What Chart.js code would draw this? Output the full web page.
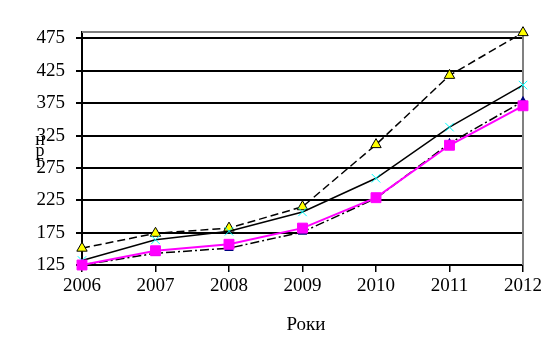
<!DOCTYPE html>
<html><head><meta charset="utf-8">
<script src="https://cdn.jsdelivr.net/npm/chart.js@4/dist/chart.umd.min.js"></script>
<style>html,body{margin:0;padding:0;background:#fff;}#wrap{width:555px;height:357px;}</style>
</head><body><div id="wrap"><canvas id="c" width="555" height="357"></canvas></div>
<script>
const years = ['2006','2007','2008','2009','2010','2011','2012'];
const seriesTriangle = [151, 174, 182, 215, 311, 418, 484];
const seriesCross = [132, 164, 177, 207, 259, 338, 403];
const seriesDashDot = [125, 143, 151, 176, 228, 313, 378];
const seriesMagenta = [125, 147, 157, 182, 229, 310, 371];
const yTicks = [125, 175, 225, 275, 325, 375, 425, 475];
const yTitleLetters = ['н', 'р', 'г'];
const xTitle = 'Роки';

const FONT = '"Liberation Serif", "Times New Roman", serif';

const decor = {
  id: 'decor',
  beforeDatasetsDraw(chart) {
    const {ctx, chartArea: a} = chart;
    ctx.save();
    ctx.strokeStyle = '#808080';
    ctx.lineWidth = 2;
    ctx.beginPath();
    ctx.moveTo(a.left, a.top);
    ctx.lineTo(a.right, a.top);
    ctx.lineTo(a.right, a.bottom);
    ctx.stroke();
    ctx.restore();
  },
  afterDraw(chart) {
    const {ctx} = chart;
    ctx.save();
    ctx.fillStyle = '#000';
    ctx.font = '18px ' + FONT;
    ctx.textAlign = 'center';
    ctx.textBaseline = 'alphabetic';
    const baselines = [145, 156, 167];
    yTitleLetters.forEach((l, i) => ctx.fillText(l, 40, baselines[i]));
    ctx.font = '19px ' + FONT;
    ctx.fillText(xTitle, 306, 330);
    ctx.restore();
  }
};

new Chart(document.getElementById('c'), {
  type: 'line',
  data: {
    labels: years,
    datasets: [
      {
        data: seriesMagenta,
        borderColor: '#ff00ff', backgroundColor: '#ff00ff',
        borderWidth: 2, pointStyle: 'rect', pointRadius: 7, pointBorderWidth: 1,
        pointBorderColor: '#ff00ff', pointBackgroundColor: '#ff00ff'
      },
      {
        data: seriesDashDot,
        borderColor: '#000', borderWidth: 1.5, borderDash: [9, 3, 2, 3],
        pointStyle: 'triangle', pointRadius: 4, pointBackgroundColor: '#000080', pointBorderColor: '#000080'
      },
      {
        data: seriesCross,
        borderColor: '#000', borderWidth: 1.5,
        pointStyle: 'crossRot', pointRadius: 6, pointBorderColor: '#00ffff', pointBorderWidth: 1
      },
      {
        data: seriesTriangle,
        borderColor: '#000', borderWidth: 1.5, borderDash: [8, 4],
        pointStyle: 'triangle', pointRadius: 6, pointBackgroundColor: '#ffff00', pointBorderColor: '#000', pointBorderWidth: 1
      }
    ]
  },
  options: {
    responsive: false,
    animation: false,
    clip: false,
    layout: {padding: {left: 0, right: 32, top: 32, bottom: 0}},
    elements: {line: {tension: 0, fill: false}},
    plugins: {legend: {display: false}, tooltip: {enabled: false}},
    scales: {
      x: {
        type: 'category',
        offset: false,
        grid: {display: true, drawOnChartArea: false, drawTicks: true, tickLength: 7, color: '#000', lineWidth: 1.5, offset: false},
        border: {display: true, color: '#000', width: 2},
        ticks: {color: '#000', font: {family: FONT, size: 19}, padding: 3, maxRotation: 0, autoSkip: false},
        afterFit(s) { s.height = 92; }
      },
      y: {
        type: 'linear',
        min: 125, max: 485,
        afterBuildTicks(s) { s.ticks = yTicks.map(v => ({value: v})); },
        grid: {display: true, color: '#000', lineWidth: 2, tickLength: 6},
        border: {display: true, color: '#000', width: 2},
        ticks: {color: '#000', font: {family: FONT, size: 19}, padding: 11, callback: v => String(v)},
        afterFit(s) { s.width = 82; }
      }
    }
  },
  plugins: [decor]
});
</script></body></html>
